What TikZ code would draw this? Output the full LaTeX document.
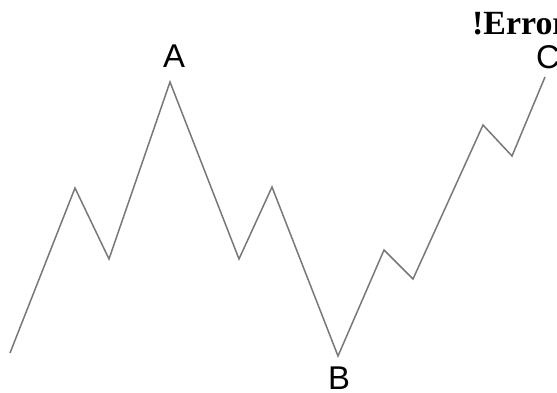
\documentclass[tikz,border=0pt]{standalone}
\usepackage{fontspec}
\setmainfont{Liberation Serif}
\newfontfamily\labelfont{Liberation Sans}
\begin{document}
\begin{tikzpicture}[x=1bp,y=1bp,
  wave/.style={draw={rgb,255:red,120;green,120;blue,120}, line width=1.5bp, line join=miter},
  ptlabel/.style={font=\labelfont\fontsize{33}{33}\selectfont, inner sep=0pt, anchor=base},
  errlabel/.style={font=\bfseries\fontsize{34}{34}\selectfont, inner sep=0pt, anchor=base west}]
\useasboundingbox (0,0) rectangle (557,392);
\clip (0,0) rectangle (557,392);
\fill[white] (0,0) rectangle (557,392);
\coordinate (p0) at (10,39);
\coordinate (p1) at (75,204);
\coordinate (p2) at (109,133);
\coordinate (p3) at (170,310);
\coordinate (p4) at (239,133);
\coordinate (p5) at (272,205);
\coordinate (p6) at (338,36);
\coordinate (p7) at (384,142);
\coordinate (p8) at (413,113);
\coordinate (p9) at (483,267);
\coordinate (p10) at (512,236);
\coordinate (p11) at (545,315);
\draw[wave] (p0) -- (p1) -- (p2) -- (p3) -- (p4) -- (p5) -- (p6) -- (p7) -- (p8) -- (p9) -- (p10) -- (p11);
\node[ptlabel] (la) at (174,325) {A};
\node[ptlabel] (lb) at (339,3) {B};
\node[ptlabel] (lc) at (548,324) {C};
\node[errlabel] (err) at (472,358) {!Error};
\end{tikzpicture}
\end{document}
